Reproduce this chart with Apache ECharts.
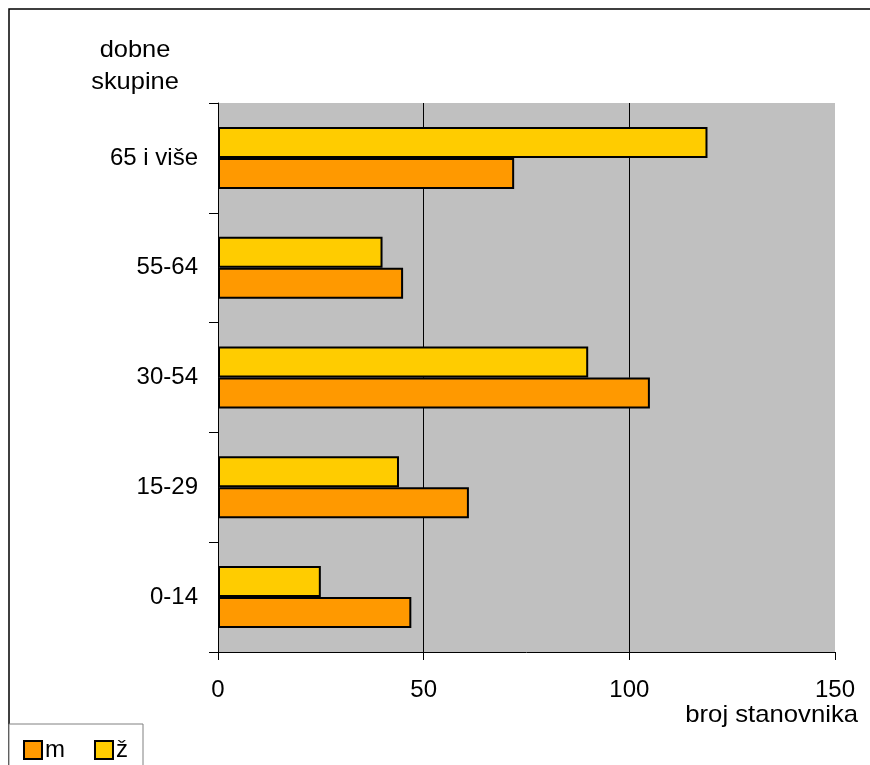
<!DOCTYPE html>
<html>
<head>
<meta charset="utf-8">
<script src="https://cdn.jsdelivr.net/npm/echarts@6/dist/echarts.min.js"></script>
<style>html,body{margin:0;padding:0;background:#fff}#c{width:870px;height:765px}</style>
</head>
<body>
<div id="c"></div>
<script>
var categories = ['0-14', '15-29', '30-54', '55-64', '65 i više'];
var valuesM = [47, 61, 105, 45, 72];
var valuesZ = [25, 44, 90, 40, 119];
var xTicks = [0, 50, 100, 150];

var chart = echarts.init(document.getElementById('c'));
var font = 'Liberation Sans, Arial, sans-serif';
var fs = 24;
chart.setOption({
  animation: false,
  textStyle: { fontFamily: font },
  grid: { left: 218, top: 103, width: 617, height: 549, show: true, backgroundColor: '#C0C0C0', borderWidth: 0 },
  xAxis: {
    type: 'value', min: xTicks[0], max: xTicks[xTicks.length - 1], interval: 50,
    axisLine: { show: true, lineStyle: { color: '#000', width: 1 } },
    axisTick: { show: true, length: 8, lineStyle: { color: '#000' } },
    axisLabel: { fontSize: fs, color: '#000', margin: 26, fontFamily: font },
    splitLine: { show: true, showMinLine: false, showMaxLine: false, lineStyle: { color: '#000', width: 1 } }
  },
  yAxis: {
    type: 'category', data: categories,
    axisLine: { show: true, lineStyle: { color: '#000', width: 1 } },
    axisTick: { show: true, length: 9, lineStyle: { color: '#000' } },
    axisLabel: { fontSize: fs, color: '#000', margin: 20, fontFamily: font },
    splitLine: { show: false }
  },
  legend: {
    left: 18, top: 733, itemWidth: 18, itemHeight: 18, itemGap: 29, icon: 'rect',
    textStyle: { fontSize: fs, color: '#000', fontFamily: font, padding: [0, 0, 0, -2] },
    data: ['m', 'ž']
  },
  series: [
    { name: 'ž', type: 'bar', data: valuesZ, barWidth: 31, barGap: '0%',
      itemStyle: { color: '#FFCC00', borderColor: '#000', borderWidth: 2 } },
    { name: 'm', type: 'bar', data: valuesM, barWidth: 31, barGap: '0%',
      itemStyle: { color: '#FF9900', borderColor: '#000', borderWidth: 2 } }
  ],
  graphic: [
    { type: 'rect', z: -1, shape: { x: 9, y: 9, width: 900, height: 800 }, style: { fill: 'none', stroke: '#000', lineWidth: 1.5 } },
    { type: 'rect', z: 0, shape: { x: 9, y: 724, width: 134, height: 60 }, style: { fill: '#fff', stroke: '#808080', lineWidth: 1 } },
    { type: 'text', x: 135, y: 34, scaleX: 1.06, style: { text: 'dobne\nskupine', align: 'center', fontSize: fs, fontFamily: font, fill: '#000', lineHeight: 32 } },
    { type: 'text', x: 858, y: 703, scaleX: 1.07, style: { text: 'broj stanovnika', align: 'right', fontSize: fs, fontFamily: font, fill: '#000' } }
  ]
});
</script>
</body>
</html>
